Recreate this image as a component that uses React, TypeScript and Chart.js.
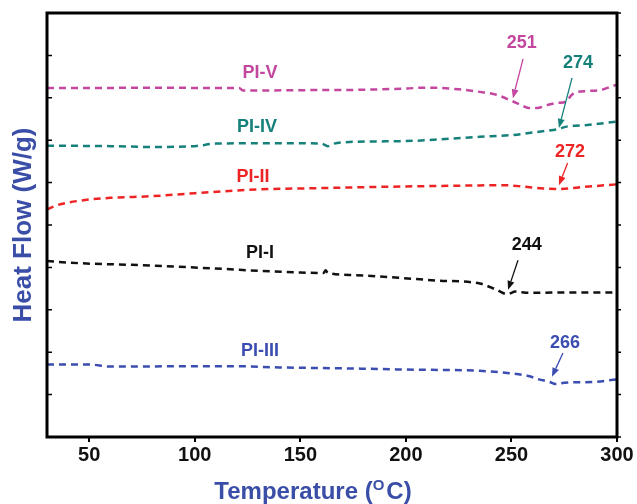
import { useEffect, useRef } from "react";
import { Chart, registerables } from "chart.js";
Chart.register(...registerables);

const X_TICKS = [50, 100, 150, 200, 250, 300];
const Y_TICKS = [0, 1, 2, 3, 4, 5, 6, 7, 8, 9, 10];

const PI_V_T = [30, 50, 80, 110, 121, 123, 150, 180, 200, 210, 225, 235, 243, 250, 255, 258, 262, 267, 272, 276, 278, 280, 286, 292, 298, 300];
const PI_V_HF = [8.23, 8.23, 8.24, 8.23, 8.23, 8.17, 8.18, 8.19, 8.22, 8.24, 8.2, 8.14, 8.07, 7.93, 7.82, 7.76, 7.76, 7.83, 7.88, 7.91, 8.04, 8.12, 8.16, 8.18, 8.28, 8.31];

const PI_IV_T = [30, 60, 80, 100, 110, 140, 160, 163, 166, 170, 200, 235, 250, 266, 272, 276, 286, 300];
const PI_IV_HF = [6.87, 6.86, 6.84, 6.86, 6.92, 6.93, 6.92, 6.86, 6.92, 6.95, 6.98, 7.08, 7.12, 7.22, 7.26, 7.32, 7.36, 7.44];

const PI_II_T = [30, 35, 45, 60, 80, 100, 130, 160, 200, 230, 245, 255, 265, 272, 285, 300];
const PI_II_HF = [5.37, 5.47, 5.57, 5.64, 5.68, 5.75, 5.84, 5.87, 5.91, 5.93, 5.94, 5.91, 5.86, 5.85, 5.9, 5.96];

const PI_I_T = [30, 45, 70, 90, 115, 130, 150, 161, 162, 163, 175, 195, 215, 235, 243, 248, 252, 258, 280, 300];
const PI_I_HF = [4.15, 4.1, 4.06, 4.02, 3.96, 3.92, 3.88, 3.87, 3.93, 3.87, 3.82, 3.76, 3.69, 3.62, 3.47, 3.37, 3.43, 3.4, 3.41, 3.41];

const PI_III_T = [30, 50, 60, 100, 120, 140, 170, 200, 235, 250, 258, 263, 268, 271, 275, 289, 300];
const PI_III_HF = [1.71, 1.71, 1.66, 1.67, 1.67, 1.64, 1.62, 1.59, 1.56, 1.5, 1.44, 1.36, 1.3, 1.25, 1.28, 1.3, 1.36];

const SERIES_NAMES = ["PI-V", "PI-IV", "PI-II", "PI-I", "PI-III"];
const SERIES_T = [PI_V_T, PI_IV_T, PI_II_T, PI_I_T, PI_III_T];
const SERIES_HF = [PI_V_HF, PI_IV_HF, PI_II_HF, PI_I_HF, PI_III_HF];
const SERIES_COLORS = ["#c3469f", "#16807a", "#ee2424", "#111111", "#3b4db0"];

const NAME_T = [130.9, 129.5, 127.6, 130.9, 130.9];
const NAME_HF = [8.58, 7.31, 6.13, 4.34, 2.03];

const PEAK_LABELS = ["251", "274", "272", "244", "266"];
const PEAK_TEXT_T = [254.9, 281.5, 277.7, 257.2, 275.4];
const PEAK_TEXT_HF = [9.29, 8.81, 6.73, 4.53, 2.22];
const ARROW_FROM_T = [255.5, 278.7, 276.6, 253.1, 274.4];
const ARROW_FROM_HF = [8.92, 8.47, 6.46, 4.17, 1.98];
const ARROW_TO_T = [250.7, 272.5, 272.5, 248.4, 269.2];
const ARROW_TO_HF = [7.99, 7.29, 5.94, 3.47, 1.42];

const FONT = '"Liberation Sans", Arial, sans-serif';
const TITLE_BLUE = "#3a4ea8";

const decorPlugin = {
  id: "decor",
  afterDraw(chart: any) {
    const { ctx, chartArea, scales } = chart;
    const xs = scales.x;
    const ys = scales.y;
    const { left, right, top, bottom } = chartArea;
    ctx.save();
    // frame
    ctx.strokeStyle = "#000";
    ctx.lineWidth = 3;
    ctx.strokeRect(left, top, right - left, bottom - top);
    // y ticks
    ctx.lineWidth = 1.5;
    Y_TICKS.forEach((v) => {
      const py = ys.getPixelForValue(v);
      ctx.beginPath();
      ctx.moveTo(left, py);
      ctx.lineTo(left + 5, py);
      ctx.moveTo(right, py);
      ctx.lineTo(right + 4, py);
      ctx.stroke();
    });
    // series names
    ctx.textAlign = "center";
    ctx.textBaseline = "middle";
    ctx.font = `bold 18px ${FONT}`;
    SERIES_NAMES.forEach((n, i) => {
      ctx.fillStyle = SERIES_COLORS[i];
      ctx.fillText(n, xs.getPixelForValue(NAME_T[i]), ys.getPixelForValue(NAME_HF[i]));
    });
    // peak labels and arrows
    PEAK_LABELS.forEach((t, i) => {
      const c = SERIES_COLORS[i];
      ctx.fillStyle = c;
      ctx.strokeStyle = c;
      ctx.fillText(t, xs.getPixelForValue(PEAK_TEXT_T[i]), ys.getPixelForValue(PEAK_TEXT_HF[i]));
      const x1 = xs.getPixelForValue(ARROW_FROM_T[i]);
      const y1 = ys.getPixelForValue(ARROW_FROM_HF[i]);
      const x2 = xs.getPixelForValue(ARROW_TO_T[i]);
      const y2 = ys.getPixelForValue(ARROW_TO_HF[i]);
      const ang = Math.atan2(y2 - y1, x2 - x1);
      const hl = 9;
      const hw = 3.5;
      const bx = x2 - hl * Math.cos(ang);
      const by = y2 - hl * Math.sin(ang);
      ctx.lineWidth = 1.3;
      ctx.beginPath();
      ctx.moveTo(x1, y1);
      ctx.lineTo(bx, by);
      ctx.stroke();
      ctx.beginPath();
      ctx.moveTo(x2, y2);
      ctx.lineTo(bx + hw * Math.sin(ang), by - hw * Math.cos(ang));
      ctx.lineTo(bx - hw * Math.sin(ang), by + hw * Math.cos(ang));
      ctx.closePath();
      ctx.fill();
    });
    // y title
    ctx.fillStyle = TITLE_BLUE;
    ctx.font = `bold 26px ${FONT}`;
    ctx.translate(24, (top + bottom) / 2);
    ctx.rotate(-Math.PI / 2);
    ctx.textAlign = "center";
    ctx.textBaseline = "middle";
    ctx.fillText("Heat Flow (W/g)", 0, 0);
    ctx.restore();
    // x title with superscript
    ctx.save();
    ctx.fillStyle = TITLE_BLUE;
    ctx.textAlign = "left";
    ctx.textBaseline = "alphabetic";
    const big = `bold 24px ${FONT}`;
    const small = `bold 15px ${FONT}`;
    const s1 = "Temperature (";
    const s2 = "O";
    const s3 = "C)";
    ctx.font = big;
    const w1 = ctx.measureText(s1).width;
    const w3 = ctx.measureText(s3).width;
    ctx.font = small;
    const w2 = ctx.measureText(s2).width;
    const total = w1 + w2 + w3 + 2;
    const cx = (left + right) / 2 - 19;
    let x = cx - total / 2;
    const base = bottom + 62;
    ctx.font = big;
    ctx.fillText(s1, x, base);
    x += w1;
    ctx.font = small;
    ctx.fillText(s2, x, base - 9);
    x += w2 + 2;
    ctx.font = big;
    ctx.fillText(s3, x, base);
    ctx.restore();
  },
};

export default function App() {
  const ref = useRef<HTMLCanvasElement | null>(null);
  useEffect(() => {
    if (!ref.current) return;
    const chart = new Chart(ref.current, {
      type: "line",
      data: {
        datasets: SERIES_NAMES.map((n, i) => ({
          label: n,
          data: SERIES_T[i].map((t, j) => ({ x: t, y: SERIES_HF[i][j] })),
          borderColor: SERIES_COLORS[i],
          borderWidth: 2.5,
          borderDash: [7, 5],
          pointRadius: 0,
          cubicInterpolationMode: "monotone" as const,
          fill: false,
        })),
      },
      options: {
        animation: false,
        responsive: false,
        devicePixelRatio: 1,
        layout: { padding: { top: 13, right: 20, left: 0, bottom: 0 } },
        plugins: {
          legend: { display: false },
          tooltip: { enabled: false },
          title: { display: false },
        },
        scales: {
          x: {
            type: "linear",
            min: 30,
            max: 300,
            afterBuildTicks: (scale: any) => {
              scale.ticks = X_TICKS.map((v) => ({ value: v }));
            },
            afterFit: (scale: any) => {
              scale.height = 67;
            },
            grid: {
              drawOnChartArea: false,
              drawTicks: true,
              tickLength: 5,
              lineWidth: 2,
              color: "#000",
            },
            border: { display: false },
            ticks: {
              color: "#111",
              padding: 1,
              maxRotation: 0,
              font: { family: FONT, size: 20, weight: "bold" },
            },
          },
          y: {
            type: "linear",
            min: 0,
            max: 10,
            afterBuildTicks: (scale: any) => {
              scale.ticks = Y_TICKS.map((v) => ({ value: v }));
            },
            afterFit: (scale: any) => {
              scale.width = 47;
            },
            grid: { display: false },
            border: { display: false },
            ticks: { display: false },
          },
        },
      },
      plugins: [decorPlugin],
    });
    return () => chart.destroy();
  }, []);
  return (
    <div style={{ position: "absolute", left: 0, top: 0, width: 637, height: 504, background: "#fff" }}>
      <canvas ref={ref} width={637} height={504} style={{ width: 637, height: 504 }} />
    </div>
  );
}
